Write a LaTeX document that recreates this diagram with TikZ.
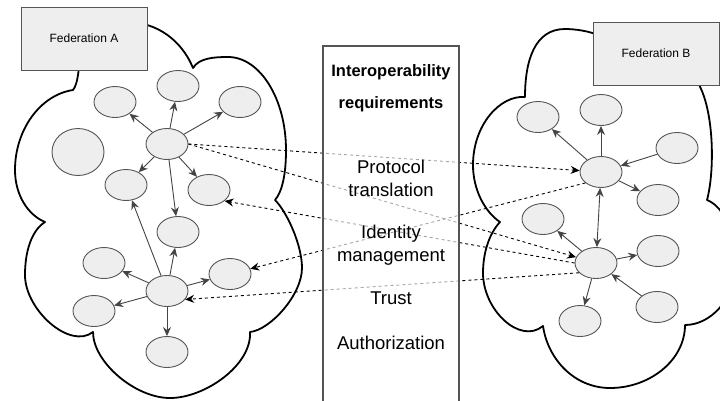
\documentclass[tikz,border=0pt]{standalone}
\usepackage{fontspec}
\setmainfont{Liberation Sans}
\usetikzlibrary{shapes.geometric,arrows.meta}
\definecolor{nodefill}{HTML}{EEEEEE}
\definecolor{nodeline}{HTML}{555555}
\definecolor{linkcol}{HTML}{444444}

\begin{document}
\begin{tikzpicture}[x=1pt,y=-1pt,
  tip/.style={-{Stealth[length=9pt,width=8pt,inset=3pt]}},
  peer/.style={ellipse,draw=nodeline,fill=nodefill,line width=0.9pt,
    minimum width=42pt,minimum height=31pt,inner sep=0pt},
  link/.style={draw=linkcol,line width=0.9pt,tip},
  bilink/.style={draw=linkcol,line width=0.9pt,
    {Stealth[length=9pt,width=8pt,inset=3pt]}-{Stealth[length=9pt,width=8pt,inset=3pt]}},
  xfed/.style={dashed,draw=black,line width=0.9pt,tip},
  cloudline/.style={draw=black,line width=1.8pt,fill=white,line join=round},
  fedbox/.style={rectangle,draw=nodeline,fill=nodefill,line width=0.9pt,
    minimum width=126pt,minimum height=63pt,inner sep=0pt,
    font=\fontsize{12}{14}\selectfont},
  reqpanel/.style={rectangle,draw=nodeline,fill=white,fill opacity=0.65,
    line width=1.2pt,minimum width=136pt,minimum height=364pt,inner sep=0pt},
  reqhead/.style={anchor=base,font=\fontsize{16.5}{18}\selectfont\bfseries},
  reqitem/.style={anchor=base,font=\fontsize{18.5}{20}\selectfont}]

\useasboundingbox (0,0) rectangle (720,400);
\clip (0,0) rectangle (720,400);

% ---- cloud of federation A
\path[cloudline] (130,22)
  .. controls (165,24) and (185,48) .. (193,68)
  .. controls (199,58) and (214,57) .. (228,57)
  .. controls (260,57) and (286,99) .. (286,150)
  .. controls (286,175) and (282,192) .. (275,200)
  .. controls (287,212) and (302,245) .. (302,268)
  .. controls (302,295) and (270,330) .. (250,332)
  .. controls (252,365) and (205,398) .. (170,398)
  .. controls (135,398) and (93,362) .. (93,332)
  .. controls (70,350) and (25,310) .. (25,275)
  .. controls (25,245) and (35,228) .. (45,222)
  .. controls (28,215) and (15,195) .. (15,170)
  .. controls (15,130) and (40,95) .. (73,90)
  .. controls (77,85) and (78,75) .. (79,68)
  -- (79,40) -- cycle;

% ---- cloud of federation B
\path[cloudline] (620,36) -- (600,36)
  .. controls (590,31) and (575,29) .. (565,29)
  .. controls (535,29) and (525,60) .. (525,97)
  .. controls (500,95) and (473,125) .. (473,165)
  .. controls (473,190) and (485,212) .. (500,222)
  .. controls (488,235) and (483,255) .. (483,273)
  .. controls (483,310) and (520,345) .. (543,326)
  .. controls (548,360) and (575,388) .. (610,388)
  .. controls (650,388) and (685,360) .. (685,325)
  .. controls (710,325) and (735,300) .. (735,265)
  .. controls (735,225) and (720,205) .. (707,200)
  .. controls (715,170) and (714,110) .. (698,83)
  -- (690,60) -- cycle;

% ---- federation labels
\node[fedbox] (fedA) at (84,38.5) {Federation A};
\node[fedbox] (fedB) at (656,53.5) {Federation B};

% ---- members of federation A
\node[peer] (L1) at (115,102) {};
\node[peer] (L2) at (178,86) {};
\node[peer] (L3) at (240,102) {};
\node[peer,minimum width=52pt,minimum height=47pt] (L4) at (78,152) {};
\node[peer] (LH1) at (167,144) {};
\node[peer] (L5) at (126,185) {};
\node[peer] (L6) at (209,190) {};
\node[peer] (L7) at (178,232) {};
\node[peer] (LH2) at (167,291) {};
\node[peer] (L8) at (104,263) {};
\node[peer] (L9) at (230,274) {};
\node[peer] (L10) at (94,311) {};
\node[peer] (L11) at (167,352) {};

% ---- members of federation B
\node[peer] (R1) at (538,117) {};
\node[peer] (R2) at (601,110) {};
\node[peer] (R3) at (677,148) {};
\node[peer] (RH1) at (601,172) {};
\node[peer] (R4) at (658,200) {};
\node[peer] (R5) at (543,219) {};
\node[peer] (RH2) at (596,263) {};
\node[peer] (R6) at (658,251) {};
\node[peer] (R7) at (657,307) {};
\node[peer] (R8) at (580,321) {};

% ---- links inside federation A
\draw[link] (LH1) -- (L1);
\draw[link] (LH1) -- (L2);
\draw[link] (LH1) -- (L3);
\draw[link] (LH1) -- (L5);
\draw[link] (LH1) -- (L6);
\draw[link] (LH1) -- (L7);
\draw[link] (LH2) -- (L5);
\draw[link] (LH2) -- (L7);
\draw[link] (LH2) -- (L8);
\draw[link] (LH2) -- (L9);
\draw[link] (LH2) -- (L10);
\draw[link] (LH2) -- (L11);

% ---- links inside federation B
\draw[link] (RH1) -- (R1);
\draw[link] (RH1) -- (R2);
\draw[link] (R3) -- (RH1);
\draw[link] (RH1) -- (R4);
\draw[bilink] (RH1) -- (RH2);
\draw[link] (RH2) -- (R5);
\draw[link] (RH2) -- (R6);
\draw[link] (R7) -- (RH2);
\draw[link] (RH2) -- (R8);

% ---- cross-federation links
\draw[xfed] (LH1.east) -- (RH1);
\draw[xfed] (LH1.east) -- (RH2);
\draw[xfed] (RH2.west) -- (L6.-35);
\draw[xfed] (RH1.-145) -- (L9);
\draw[xfed] (RH2.-150) -- (LH2.-25);

% ---- requirements panel
\node[reqpanel] (reqbox) at (391,228) {};
\node[reqhead] (hd1) at (391,76) {Interoperability};
\node[reqhead] (hd2) at (391,108) {requirements};
\node[reqitem] (pr1) at (391,173.5) {Protocol};
\node[reqitem] (pr2) at (391,196.5) {translation};
\node[reqitem] (id1) at (391,238.5) {Identity};
\node[reqitem] (id2) at (391,261.5) {management};
\node[reqitem] (tr) at (391,304.5) {Trust};
\node[reqitem] (au) at (391,349.5) {Authorization};
\end{tikzpicture}
\end{document}
